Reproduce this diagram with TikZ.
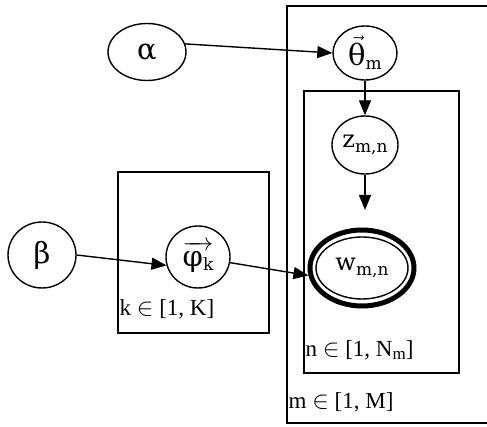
\documentclass[tikz,border=0pt]{standalone}
\usepackage{amsmath}
\usepackage{fontspec}
\setmainfont{Liberation Serif}
\newfontfamily\varfont{DejaVu Serif}
\usetikzlibrary{arrows.meta,shapes.geometric}
\newcommand\sub[1]{\raisebox{-0.35ex}{\fontsize{17}{17}\selectfont #1}}
\newcommand\grk[1]{{\fontsize{29}{29}\selectfont #1}}

\begin{document}
\begin{tikzpicture}[x=1pt,y=-1pt,line width=1.4pt,>={Triangle[length=15pt,width=12pt]},
  var/.style={draw,ellipse,inner sep=0pt,font=\varfont\fontsize{24}{28}\selectfont},
  lbl/.style={anchor=base west,inner sep=1pt,font=\fontsize{23}{27}\selectfont}]
\useasboundingbox (0,0) rectangle (487,427);
\clip (0,0) rectangle (487,427);
% plates
\draw (287,6) rectangle (495,423);
\draw (304,91) rectangle (459,373);
\draw (118,172) rectangle (269,333);
\node[lbl] (klab) at (118,316) {k $\in$ [1, K]};
\node[lbl] (nlab) at (304,356) {n $\in$ [1, N\sub{m}]};
\node[lbl] (mlab) at (287,408) {m $\in$ [1, M]};
% hyperparameters
\node[var,minimum width=78pt,minimum height=57pt] (alpha) at (147,52) {\grk{α}};
\node[var,minimum width=68pt,minimum height=66pt] (beta) at (42,255) {\grk{β}};
% latent variables
\node[var,minimum width=64pt,minimum height=54pt] (theta) at (365,53) {$\vec{\text{\grk{θ}}}$\sub{m}};
\node[var,minimum width=66pt,minimum height=58pt] (z) at (365,145) {z\sub{m,n}};
\node[var,minimum width=64pt,minimum height=62pt] (phi) at (198,257) {$\overrightarrow{\text{\grk{φ}\sub{k}}}$};
% observed word
\node[var,line width=5pt,minimum width=104pt,minimum height=76pt] (w) at (362,268) {};
\node[var,minimum width=92pt,minimum height=62pt] (win) at (w.center) {w\sub{m,n}};
\coordinate (zend) at (365,210);
\draw[->] (alpha.12) -- (theta.west);
\draw[->] (theta.south) -- (z.north);
\draw[->] (z.south) -- (zend);
\draw[->] (beta.east) -- (phi.195);
\draw[->] (phi.-10) -- (w.188);
\end{tikzpicture}
\end{document}
